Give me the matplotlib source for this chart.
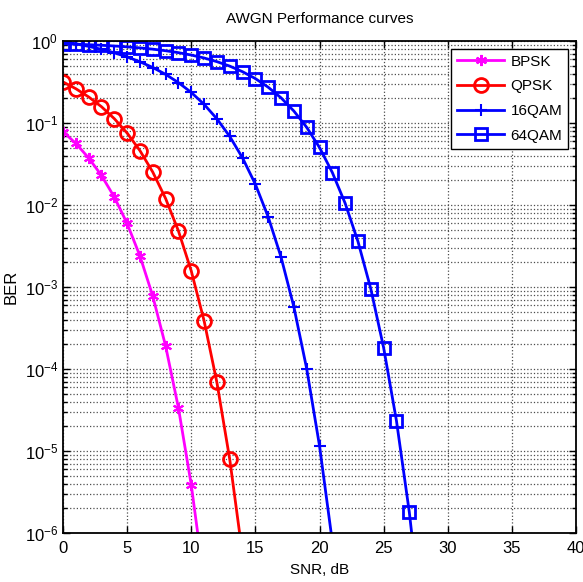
import matplotlib

matplotlib.use("Agg")
import matplotlib.pyplot as plt
from matplotlib.ticker import LogLocator, NullFormatter

plt.rcParams["font.family"] = ["Liberation Sans", "DejaVu Sans"]
plt.rcParams["mathtext.fontset"] = "custom"
plt.rcParams["mathtext.rm"] = "Liberation Sans"

# values (error rate vs SNR in dB)
snr_bpsk = [0, 1, 2, 3, 4, 5, 6, 7, 8, 9, 10, 11]
ber_bpsk = [7.87e-2, 5.63e-2, 3.75e-2, 2.29e-2, 1.25e-2, 5.95e-3, 2.39e-3,
            7.73e-4, 1.91e-4, 3.36e-5, 3.87e-6, 2.61e-7]

snr_qpsk = [0, 1, 2, 3, 4, 5, 6, 7, 8, 9, 10, 11, 12, 13, 14]
ber_qpsk = [0.317, 0.262, 0.208, 0.158, 0.113, 7.54e-2, 4.60e-2, 2.52e-2,
            1.20e-2, 4.83e-3, 1.57e-3, 3.88e-4, 6.86e-5, 7.94e-6, 5.4e-7]

snr_16qam = list(range(0, 22))
ber_16qam = [0.982, 0.924, 0.860, 0.791, 0.718, 0.640, 0.558, 0.475, 0.392,
             0.311, 0.236, 0.169, 0.1125, 6.86e-2, 3.75e-2, 1.79e-2, 7.16e-3,
             2.32e-3, 5.73e-4, 1.01e-4, 1.16e-5, 7.84e-7]

snr_64qam = list(range(0, 29))
ber_64qam = [0.924, 0.914, 0.901, 0.887, 0.869, 0.849, 0.824, 0.795, 0.761,
             0.721, 0.674, 0.621, 0.560, 0.494, 0.422, 0.348, 0.273, 0.203,
             0.140, 8.86e-2, 5.03e-2, 2.49e-2, 1.05e-2, 3.59e-3, 9.50e-4,
             1.82e-4, 2.34e-5, 1.81e-6, 7.4e-8]

x_ticks = [0, 5, 10, 15, 20, 25, 30, 35, 40]

fig = plt.figure(figsize=(5.83, 5.82), dpi=100)
ax = fig.add_axes([63 / 583, 49 / 582, 513 / 583, 492 / 582])

ax.semilogy(snr_bpsk, ber_bpsk, color=(1, 0, 1), lw=2, marker=(6, 2, 0),
            ms=8, mew=1.5, label="BPSK")
ax.semilogy(snr_qpsk, ber_qpsk, color="red", lw=2, marker="o", ms=10,
            mfc="none", mew=2, label="QPSK")
ax.semilogy(snr_16qam, ber_16qam, color="blue", lw=2, marker="+", ms=9,
            mew=1.5, label="16QAM")
ax.semilogy(snr_64qam, ber_64qam, color="blue", lw=2, marker="s", ms=9,
            mfc="none", mew=2, label="64QAM")

ax.set_xlim(0, 40)
ax.set_ylim(1e-6, 1)
ax.set_xticks(x_ticks)
ax.yaxis.set_major_locator(LogLocator(base=10, numticks=10))
ax.yaxis.set_minor_locator(LogLocator(base=10, subs=range(2, 10), numticks=20))
ax.yaxis.set_minor_formatter(NullFormatter())

ax.grid(True, which="major", color="0.3", linestyle=":", linewidth=0.9)
ax.grid(True, which="minor", axis="y", color="0.3", linestyle=":", linewidth=0.9)

ax.tick_params(which="both", direction="in", top=True, right=True,
               labelsize=12, width=1)
ax.tick_params(which="major", length=5)
ax.tick_params(which="minor", length=3)
ax.tick_params(axis="x", pad=6)
for spine in ax.spines.values():
    spine.set_linewidth(1.3)

ax.set_title("AWGN Performance curves", fontsize=11, pad=13)
ax.set_xlabel("SNR, dB", fontsize=11, labelpad=5)
ax.set_ylabel("BER", fontsize=12, labelpad=4)

leg = ax.legend(loc="upper right", fontsize=11, fancybox=False, framealpha=1,
                edgecolor="black", handlelength=3.1, handletextpad=0.4,
                labelspacing=0.7, borderaxespad=0.5)
leg.get_frame().set_linewidth(1.0)

fig.savefig("out.png", dpi=100)
